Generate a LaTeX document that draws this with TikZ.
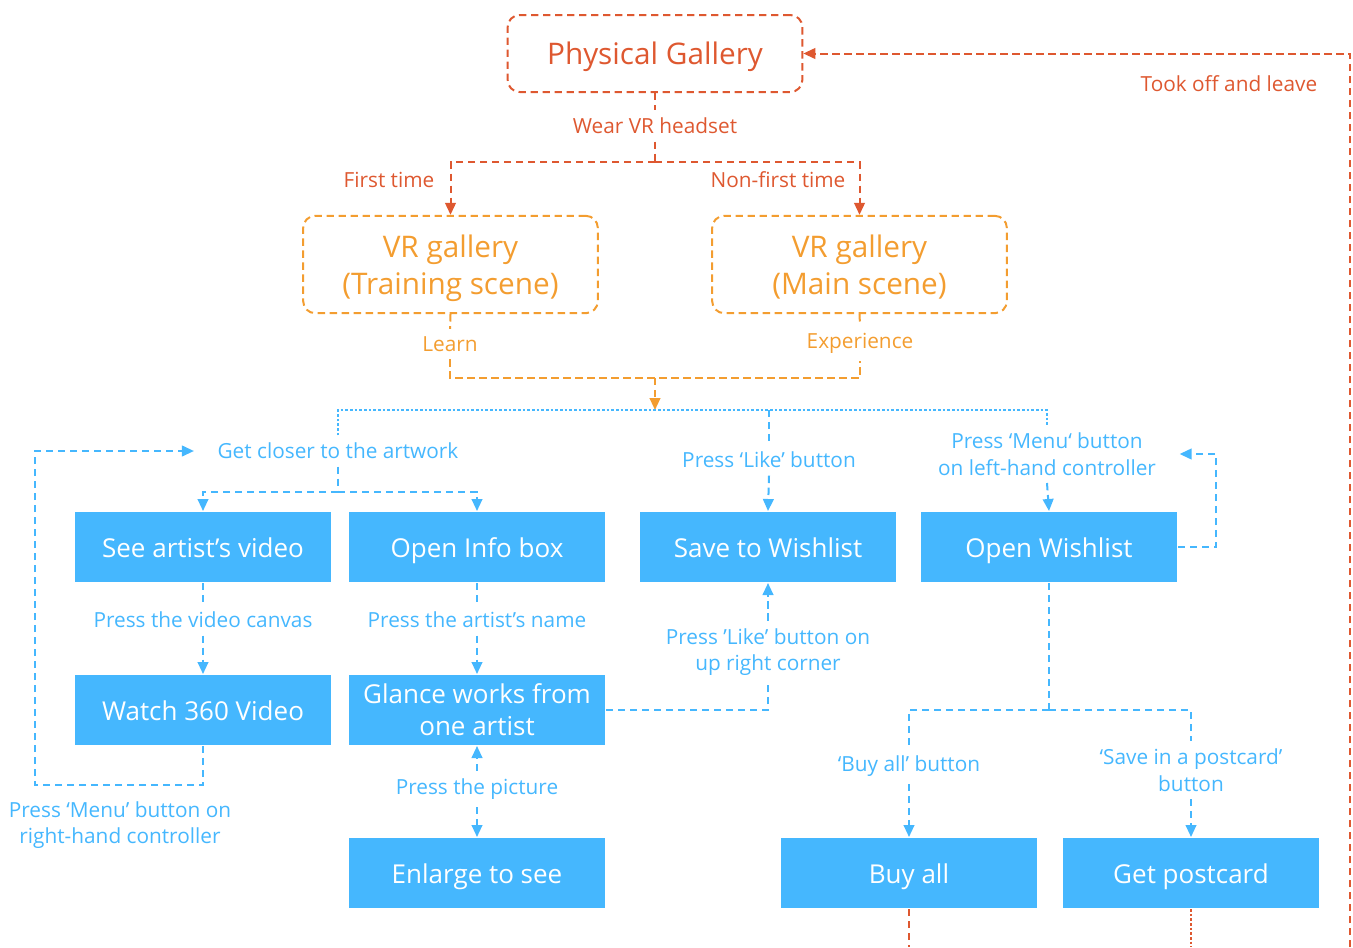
\documentclass[tikz,border=0pt]{standalone}
\usepackage{fontspec}
\setmainfont{Open Sans}
\usetikzlibrary{arrows.meta,positioning}

\definecolor{rust}{RGB}{222,88,48}
\definecolor{amber}{RGB}{243,157,48}
\definecolor{sky}{RGB}{69,183,254}

\tikzset{every picture/.style={line width=1.5pt}}
\tikzset{
  flow/.style={dash pattern=on 5.5pt off 3.5pt},
  fine/.style={line width=0.8pt,dash pattern=on 2pt off 1.5pt},
  tip/.style={-{Triangle[length=9pt,width=8pt]}},
  stage/.style={draw,rounded corners=9pt,flow,minimum width=221pt,text depth=0pt,align=center,font=\fontsize{22.3}{28}\selectfont},
  tile/.style={fill=sky,text=white,minimum width=192pt,minimum height=52.5pt,inner sep=0pt,align=center,font=\fontsize{19.5}{24}\selectfont},
  action/.style={tile,text height=17pt,text depth=1pt},
  cue/.style={align=center,inner sep=5pt,font=\fontsize{15.6}{20}\selectfont},
}

\begin{document}
\begin{tikzpicture}[x=0.75pt,y=0.75pt,yscale=-1,xscale=1]
	\useasboundingbox (0,0) rectangle (1353,947);

	% stages
	\node[stage,rust,minimum height=57.75pt] (pg) at (655,53.5) {Physical Gallery};
	\node[stage,amber,minimum height=73pt] (train) at (450.5,264.5) {VR gallery\\(Training scene)};
	\node[stage,amber,minimum height=73pt] (main) at (859.5,264.5) {VR gallery\\(Main scene)};

	% actions
	\node[action] (video) at (203,547) {See artist’s video};
	\node[action] (info) at (477,547) {Open Info box};
	\node[action] (wish) at (768,547) {Save to Wishlist};
	\node[action] (openwl) at (1049,547) {Open Wishlist};
	\node[action] (watch) at (203,710) {Watch 360 Video};
	\node[tile] (glance) at (477,710) {Glance works from\\one artist};
	\node[action] (enlarge) at (477,873) {Enlarge to see};
	\node[action] (buyall) at (909,873) {Buy all};
	\node[action] (postcard) at (1191,873) {Get postcard};

	% labels
	\node[cue,rust] (wear) at (655,126) {Wear VR headset};
	\node[cue,rust] (first) at (389,180) {First time};
	\node[cue,rust] (nonfirst) at (778,180) {Non-first time};
	\node[cue,rust] (leave) at (1229,84) {Took off and leave};
	\node[cue,amber] (learn) at (450,344) {Learn};
	\node[cue,amber] (exp) at (860,343) {Experience};
	\node[cue,sky] (closer) at (338,451) {Get closer to the artwork};
	\node[cue,sky] (like) at (769,460) {Press ‘Like’ button};
	\node[cue,sky] (menu) at (1047,454) {Press ‘Menu‘ button\\on left-hand controller};
	\node[cue,sky] (canvas) at (203,620) {Press the video canvas};
	\node[cue,sky] (artname) at (477,620) {Press the artist’s name};
	\node[cue,sky] (corner) at (768,652) {Press ’Like’ button on\\up right corner};
	\node[cue,sky] (picture) at (477,789) {Press the picture};
	\node[cue,sky] (menuright) at (120,825) {Press ‘Menu’ button on\\right-hand controller};
	\node[cue,sky] (buylbl) at (909,766) {‘Buy all’ button};
	\node[cue,sky] (savelbl) at (1191,770) {‘Save in a postcard’\\button};

	\coordinate (split) at (655,162);
	\coordinate (merge) at (655,378);
	\coordinate (hub) at (655,410);
	\coordinate (closersplit) at (338,492);
	\coordinate (loopL) at (35,785);
	\coordinate (loopR) at (1216,547);
	\coordinate (wlsplit) at (1049,710);
	\coordinate (buyend) at (909,947);
	\coordinate (cardend) at (1191,947);
	\coordinate (exit) at (1350,947);

	% headset on
	\draw[rust,flow] (pg.south) -- (wear.north);
	\draw[rust,flow] (wear.south) -- (split);
	\draw[rust,flow,tip] (split) -| (train.north);
	\draw[rust,flow,tip] (split) -| (main.north);

	% into the gallery
	\draw[amber,flow] (train.south) -- (learn.north);
	\draw[amber,flow] (main.south) -- (exp.north);
	\draw[amber,flow] (learn.south) |- (merge) -| (exp.south);
	\draw[amber,flow,tip] (merge) -- (hub);

	\draw[sky,fine] (closer.north) |- (hub) -| (menu.north);
	\draw[sky,flow] (like.north |- hub) -- (like.north);

	% artwork
	\draw[sky,flow] (closer.south) -- (closersplit);
	\draw[sky,flow,tip] (closersplit) -| (video.north);
	\draw[sky,flow,tip] (closersplit) -| (info.north);
	\draw[sky,flow] (video.south) -- (canvas.north);
	\draw[sky,flow,tip] (canvas.south) -- (watch.north);
	\draw[sky,flow] (info.south) -- (artname.north);
	\draw[sky,flow,tip] (artname.south) -- (glance.north);
	\draw[sky,flow,tip] (picture.north) -- (glance.south);
	\draw[sky,flow,tip] (picture.south) -- (enlarge.north);
	\draw[sky,flow,tip,shorten >=12pt] (watch.south) |- (loopL) |- (closer.west);

	% wishlist
	\draw[sky,flow,tip] (like.south) -- (wish.north);
	\draw[sky,flow] (glance.east) -| (corner.south);
	\draw[sky,flow,tip] (corner.north) -- (wish.south);
	\draw[sky,flow,tip] (menu.south) -- (openwl.north);
	\draw[sky,flow,tip,shorten >=12pt] (openwl.east) -- (loopR) |- (menu.east);
	\draw[sky,flow] (openwl.south) -- (wlsplit);
	\draw[sky,flow] (wlsplit) -| (buylbl.north);
	\draw[sky,flow] (wlsplit) -| (savelbl.north);
	\draw[sky,flow,tip] (buylbl.south) -- (buyall.north);
	\draw[sky,flow,tip] (savelbl.south) -- (postcard.north);

	% leaving
	\draw[rust,flow] (buyall.south) -- (buyend);
	\draw[rust,fine] (postcard.south) -- (cardend);
	\draw[rust,flow,tip] (exit) |- (pg.east);

\end{tikzpicture}
\end{document}
